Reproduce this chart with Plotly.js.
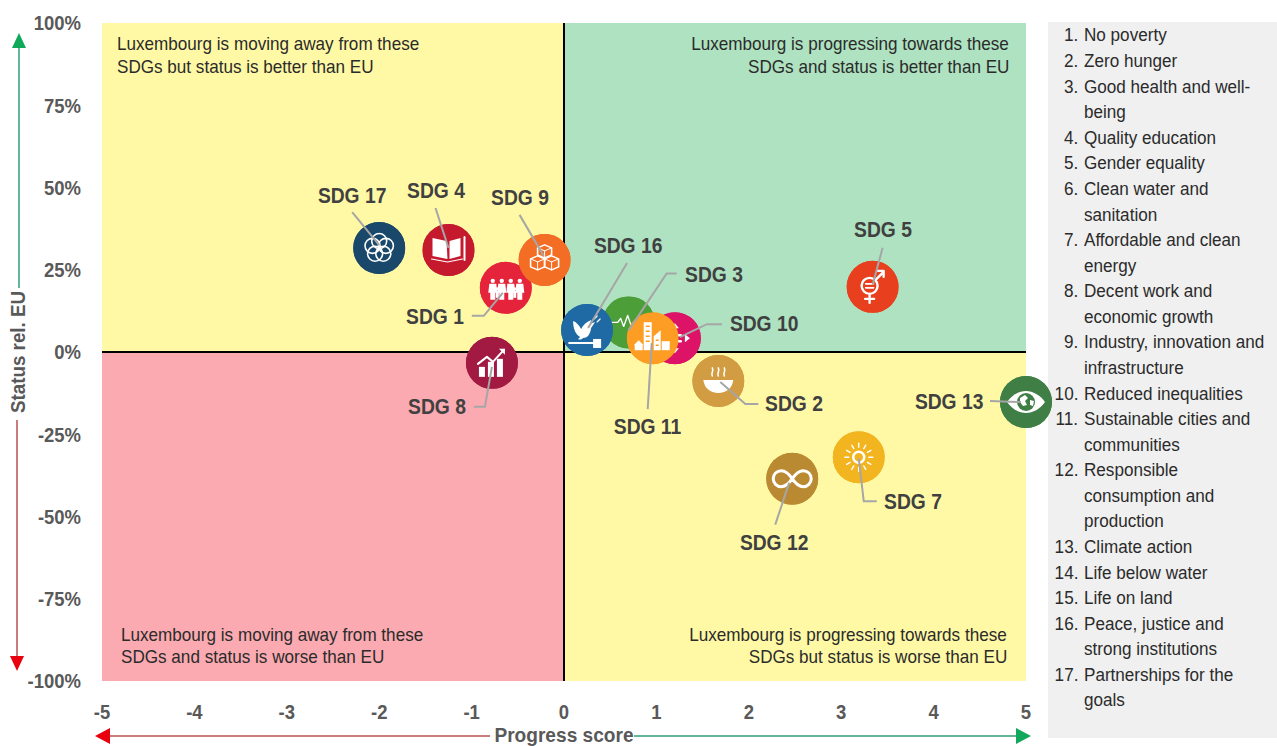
<!DOCTYPE html>
<html><head><meta charset="utf-8">
<script src="https://cdn.plot.ly/plotly-3.0.1.min.js"></script>
<style>html,body{margin:0;padding:0;background:#fff}#c{width:1277px;height:746px}</style>
</head><body><div id="c"></div>
<script>
// ---- data (listed in stacking order, bottom to top) ----
const goalIds      = [1, 9, 17, 4, 8, 3, 10, 16, 11, 2, 5, 7, 12, 13];
const progressScore = [-0.63, -0.21, -2.0, -1.25, -0.78, 0.70, 1.20, 0.25, 0.96, 1.67, 3.34, 3.19, 2.47, 5.0];
const statusRelEU   = [19.5, 28, 31.6, 31, -3.3, 9, 4.2, 6.7, 4.2, -8.8, 19.8, -32, -38.5, -15.2];
const goalColors    = ['#E5243B','#F36D25','#19486A','#C5192D','#A21942','#4C9F38','#DD1367','#1F6AA5','#FD9D24','#D19C42','#E8401F','#F2B41F','#BA8A33','#3F7E44'];
const xTicks = [-5,-4,-3,-2,-1,0,1,2,3,4,5];
const yTicks = [-100,-75,-50,-25,0,25,50,75,100];
const quadrantNotes = [
  ['Luxembourg is moving away from these','SDGs but status is better than EU'],
  ['Luxembourg is progressing towards these','SDGs and status is better than EU'],
  ['Luxembourg is moving away from these','SDGs and status is worse than EU'],
  ['Luxembourg is progressing towards these','SDGs but status is worse than EU']];
const goalList = [
 ['1.','No poverty'],['2.','Zero hunger'],['3.','Good health and well-'],['','being'],['4.','Quality education'],
 ['5.','Gender equality'],['6.','Clean water and'],['','sanitation'],['7.','Affordable and clean'],['','energy'],
 ['8.','Decent work and'],['','economic growth'],['9.','Industry, innovation and'],['','infrastructure'],
 ['10.','Reduced inequalities'],['11.','Sustainable cities and'],['','communities'],['12.','Responsible'],
 ['','consumption and'],['','production'],['13.','Climate action'],['14.','Life below water'],['15.','Life on land'],
 ['16.','Peace, justice and'],['','strong institutions'],['17.','Partnerships for the'],['','goals']];

// ---- layout constants ----
const W=1277,H=746,L=102,R=1026,T=23,B=681;
const FONT='"Liberation Sans",Arial,sans-serif';
const px=v=>(v-L)/(R-L), py=v=>(B-v)/(B-T);
const dx=d=>d*10/(R-L), dy=d=>-d*200/(B-T);
const DIAM=52;

// label offset from the point (pixels) and leader polyline relative to the point
const labelPlace={1:[-71,29],9:[-25,-62],17:[-27,-53],4:[-12,-60],8:[-55,44],3:[85,-48],10:[89,-15],16:[41,-84],11:[-5,88],2:[76,23],5:[10,-57],7:[54,44],12:[-18,64],13:[-77,-1]};
const leaders={
 1:[[-34,28],[-22,28],[-3,5]],9:[[-25,-45],[-1,-4]],17:[[-27,-36],[0,-3]],4:[[-13,-42],[0,-2]],
 8:[[-18,44],[-7,44],[0,4]],3:[[48,-49],[38,-49],[0,8]],10:[[47,-14],[32,-14],[5,-1]],16:[[40,-67],[1,-2]],
 11:[[-5,71],[-1,5]],2:[[40,23],[27,23],[2,1]],5:[[10,-39],[0,-2]],7:[[18,44],[5,44],[0,1]],12:[[-17,46],[-3,4]],13:[[-36,-1],[-5,0]]};

// ---- icons ----
const S='stroke="#fff" fill="none" stroke-linecap="round" stroke-linejoin="round"';
const glyphs={
 1:[11,20,29,38].map((x,i)=>`<circle cx="${x+2}" cy="19" r="2.2" fill="#fff"/><path d="M${x-1.5} 22h7l1 9h-2v7h-5v-7h-2z" fill="#fff"/>`).join('')+`<circle cx="17.5" cy="27" r="1.5" fill="#fff"/><rect x="16" y="29" width="3" height="7" fill="#fff"/><circle cx="35" cy="27" r="1.5" fill="#fff"/><rect x="33.5" y="29" width="3" height="7" fill="#fff"/>`,
 2:`<path d="M11 25h30c-1 8-7 13-15 13s-14-5-15-13z" fill="#fff"/><path d="M20 21c-2-3 2-4 0-8M26 21c-2-3 2-4 0-8M32 21c-2-3 2-4 0-8" ${S} stroke-width="1.6"/>`,
 3:`<path d="M8 26h7l3-4 3 8 4-11 3 9h3" ${S} stroke-width="1.4"/>`,
 4:`<path d="M10 14l14 3 1 18-15-3z" fill="#fff"/><path d="M27 17l11-3v18l-11 3z" fill="#fff"/><path d="M9 35l16 3 15-3" ${S} stroke-width="1.2"/><path d="M42 13v23" ${S} stroke-width="2"/>`,
 5:`<circle cx="23" cy="25" r="8" ${S} stroke-width="2.4"/><path d="M23 33v9M18.5 38h9M29 19l8-8M31 10h6v6" ${S} stroke-width="2.4"/><path d="M19 23h8M19 27h8" ${S} stroke-width="1.6"/>`,
 7:`<circle cx="26" cy="26" r="5.5" ${S} stroke-width="2.5"/>`+[0,30,60,90,120,150,180,210,240,270,300,330].map(a=>`<path d="M26 16v-4" transform="rotate(${a} 26 26)" ${S} stroke-width="1.4"/>`).join(''),
 8:`<rect x="13" y="30" width="6" height="10" fill="#fff"/><rect x="22" y="25" width="6" height="15" fill="#fff"/><rect x="31" y="22" width="6" height="18" fill="#fff"/><path d="M12 27l9-7 6 5 11-12" ${S} stroke-width="2"/><path d="M33 12h6v6z" fill="#fff"/>`,
 9:`<path d="M26 11l7 3v7l-7 3-7-3v-7z" ${S} stroke-width="1.6"/><path d="M19 22l7 3v8l-7 3-7-3v-8z" ${S} stroke-width="1.6"/><path d="M33 22l7 3v8l-7 3-7-3v-8z" ${S} stroke-width="1.6"/><path d="M12 25l7 3 7-3M26 25l7 3 7-3M19 14l7 3 7-3M19 28v8M33 28v8M26 17v7" ${S} stroke-width="1"/>`,
 10:`<path d="M20 23h12M20 29h12" ${S} stroke-width="2.4"/><path d="M26 11l4 5h-8zM26 41l4-5h-8zM41 26l-5 4v-8zM11 26l5 4v-8z" fill="#fff"/>`,
 11:`<rect x="17" y="10" width="8" height="28" fill="#fff"/><path d="M27 38V24l7-6v20z" fill="#fff"/><rect x="35" y="29" width="8" height="9" fill="#fff"/><path d="M8 38v-6l4-4 4 4v6z" fill="#fff"/><path d="M19 14h4M19 19h4M19 24h4M19 29h4M29 28h3M29 33h3" stroke="#FD9D24" stroke-width="1.6"/>`,
 12:`<path d="M26 26c-4-6-7-8-11-8a8 8 0 0 0 0 16c4 0 7-2 11-8s7-8 11-8a8 8 0 0 1 0 16c-4 0-7-2-11-8z" ${S} stroke-width="3"/>`,
 13:`<path d="M7 26c5-7 12-11 19-11s14 4 19 11c-5 7-12 11-19 11S12 33 7 26z" fill="#fff"/><circle cx="26" cy="26" r="9" fill="#3F7E44"/><path d="M20 22l5-3 3 3-3 3 2 4-4 1-3-4zM30 24l4 1-1 5-3-1z" fill="#fff"/>`,
 16:`<path d="M12 17c3 1 6 4 8 8 2-4 5-7 10-9l-1 4 5-2-4 6c-1 7-4 10-8 10-2 2-4 2-5 1l2-2c-5-3-7-9-7-16z" fill="#fff"/><path d="M33 15l3-3M36 18l3-3" ${S} stroke-width="1.2"/><path d="M8 39h25" ${S} stroke-width="2"/><rect x="32" y="35" width="8" height="9" fill="#fff"/>`,
 17:[[26,19],[32.7,23.8],[30.1,31.7],[21.9,31.7],[19.3,23.8]].map(c=>`<circle cx="${c[0]}" cy="${c[1]}" r="7.5" ${S} stroke-width="1.6"/>`).join('')
};
function iconUri(id,color){
  const svg=`<svg xmlns="http://www.w3.org/2000/svg" width="104" height="104" viewBox="0 0 52 52"><circle cx="26" cy="26" r="26" fill="${color}"/>${glyphs[id]}</svg>`;
  return 'data:image/svg+xml;charset=utf-8,'+encodeURIComponent(svg);
}

// ---- traces ----
const traces=[{
  type:'scatter',mode:'markers',x:progressScore,y:statusRelEU,text:goalIds.map(i=>'SDG '+i),
  marker:{size:DIAM,color:goalColors,line:{width:0}},cliponaxis:false,hoverinfo:'text',showlegend:false
}];

// ---- shapes ----
const rect=(x0,y0,x1,y1,c)=>({type:'rect',xref:'x',yref:'y',x0,y0,x1,y1,fillcolor:c,line:{width:0},layer:'below'});
const pline=(x0,y0,x1,y1,c)=>({type:'line',xref:'paper',yref:'paper',x0:px(x0),y0:py(y0),x1:px(x1),y1:py(y1),line:{color:c,width:1.5},layer:'above'});
const tri=(pts,c)=>({type:'path',xref:'paper',yref:'paper',path:'M'+pts.map(p=>px(p[0])+','+py(p[1])).join('L')+'Z',fillcolor:c,line:{width:0},layer:'above'});
const GREEN='#10A85A',RED='#E8000F';
const shapes=[
  rect(-5,0,0,100,'#FFF9A6'),rect(0,0,5,100,'#AEE2C0'),rect(-5,-100,0,0,'#FAAAB0'),rect(0,-100,5,0,'#FFF9A6'),
  {type:'rect',xref:'paper',yref:'paper',x0:px(1048),x1:px(1277),y0:py(738),y1:py(22),fillcolor:'#F0F0F0',line:{width:0},layer:'below'},
  pline(19,288,19,46,'#2F9E78'),tri([[19,33],[12,48],[26,48]],GREEN),
  pline(17,420,17,658,'#B8504F'),tri([[17,671],[10,656],[24,656]],RED),
  pline(490,736,108,736,'#B8504F'),tri([[95,736],[110,728],[110,744]],RED),
  pline(634,736,1018,736,'#2F9E78'),tri([[1031,736],[1016,728],[1016,744]],GREEN)
];
goalIds.forEach((id,i)=>{
  const d='M'+leaders[id].map(p=>(progressScore[i]+dx(p[0]))+','+(statusRelEU[i]+dy(p[1]))).join('L');
  shapes.push({type:'path',xref:'x',yref:'y',path:d,line:{color:'#A6A6A6',width:2},layer:'above'});
});

// ---- annotations ----
const annotations=[];
const line=(text,x,y,xanchor,size,f)=>annotations.push({text,name:String(f),xref:'paper',yref:'paper',x:px(x),y:py(y),xanchor,yanchor:'middle',align:xanchor,showarrow:false,font:{family:FONT,size,color:'#2B2B2B'}});
const notePos=[[115,44,'left'],[1011,44,'right'],[119,634,'left'],[1009,634,'right']];
quadrantNotes.forEach((n,k)=>{const p=notePos[k];line(n[0],p[0],p[1],p[2],19,0.9);line(n[1],p[0],p[1]+22.5,p[2],19,0.9);});
goalList.forEach((row,i)=>{
  const y=35+i*(665/26);
  if(row[0])line(row[0],1080,y,'right',18.3,0.935);
  line(row[1],1082,y,'left',18.3,0.935);
});
goalIds.forEach((id,i)=>{
  annotations.push({text:'SDG '+id,xref:'x',yref:'y',x:progressScore[i],y:statusRelEU[i],xshift:labelPlace[id][0],yshift:-labelPlace[id][1],showarrow:false,xanchor:'center',yanchor:'middle',align:'center',font:{family:FONT,size:22,weight:700,color:'#404040'}});
});

// ---- icons placed through the axes' fractions (paper refs are not clipped at the plot edge) ----
const images=goalIds.map((id,i)=>({
  source:iconUri(id,goalColors[i]),xref:'paper',yref:'paper',
  x:(progressScore[i]+5)/10,y:(statusRelEU[i]+100)/200,
  sizex:DIAM/(R-L),sizey:DIAM/(B-T),sizing:'stretch',xanchor:'center',yanchor:'middle',layer:'above'
}));

const tickFont={family:FONT,size:21,weight:700,color:'#595959'};
const layout={
  width:W,height:H,margin:{l:L,r:W-R,t:T,b:H-B},paper_bgcolor:'#fff',plot_bgcolor:'#fff',showlegend:false,
  xaxis:{range:[-5,5],tickvals:xTicks,ticktext:xTicks.map(String),tickfont:tickFont,showgrid:false,zeroline:true,zerolinecolor:'#000',zerolinewidth:2,ticks:'',ticklabelstandoff:16,automargin:false,
    title:{text:'Progress score',font:{family:FONT,size:21,weight:700,color:'#595959'},standoff:30}},
  yaxis:{range:[-100,100],tickvals:yTicks,ticktext:yTicks.map(v=>v+'%'),tickfont:tickFont,showgrid:false,zeroline:true,zerolinecolor:'#000',zerolinewidth:2,ticks:'',ticklabelstandoff:20,automargin:false,
    title:{text:'Status rel. EU',font:{family:FONT,size:21,weight:700,color:'#595959'},standoff:15}},
  shapes,annotations,images
};

// The reference uses a condensed face; squeeze the real text nodes to that width.
function squeeze(t,f){
  const w=t.getComputedTextLength();
  if(w>0){t.setAttribute('textLength',(w*f).toFixed(1));t.setAttribute('lengthAdjust','spacingAndGlyphs');}
}
Plotly.newPlot('c',traces,layout,{displayModeBar:false,staticPlot:true}).then(()=>{
  document.querySelectorAll('#c .annotation').forEach((a,i)=>{
    const t=a.querySelector('text');
    if(!t)return;
    const f=parseFloat(annotations[i].name);
    squeeze(t,isNaN(f)?0.875:f);
  });
  document.querySelectorAll('#c .xtick text,#c .ytick text').forEach(t=>squeeze(t,0.88));
  document.querySelectorAll('#c .g-xtitle text').forEach(t=>squeeze(t,0.91));
  document.querySelectorAll('#c .g-ytitle text').forEach(t=>squeeze(t,0.895));
  const yt=document.querySelector('#c .g-ytitle');
  if(yt)yt.setAttribute('transform','translate(6,0) '+(yt.getAttribute('transform')||''));
});
</script></body></html>
